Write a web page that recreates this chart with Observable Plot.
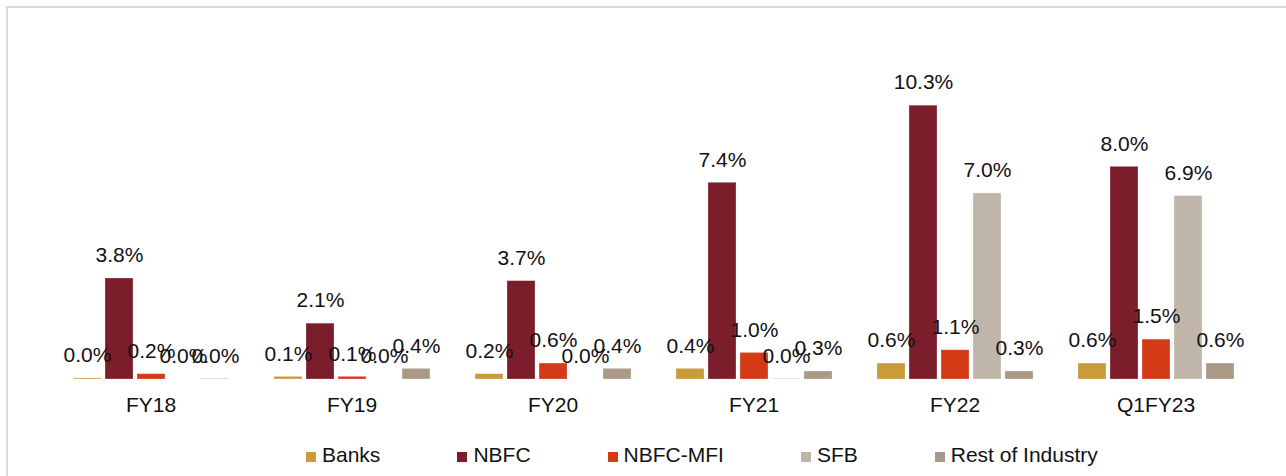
<!DOCTYPE html>
<html>
<head>
<meta charset="utf-8">
<script src="https://cdn.jsdelivr.net/npm/d3@7"></script>
<script src="https://cdn.jsdelivr.net/npm/@observablehq/plot@0.6"></script>
<style>
  html, body { margin: 0; padding: 0; background: #fff; }
  body { width: 1286px; height: 476px; position: relative; overflow: hidden; font-family: "Liberation Sans", Arial, sans-serif; }
  #frame { position: absolute; left: 6px; top: 6px; width: 1400px; height: 600px; border-left: 2px solid #d9d9d9; border-top: 2px solid #d9d9d9; box-sizing: border-box; }
  #chart { position: absolute; left: 0; top: 0; }
  #legend { position: absolute; left: 306px; top: 444px; font-size: 21px; line-height: 21px; color: #111; white-space: nowrap; }
  #legend .item { display: inline-block; margin-right: 77px; }
  #legend .sw { display: inline-block; width: 10px; height: 10px; margin-right: 6px; vertical-align: baseline; }
</style>
</head>
<body>
<div id="frame"></div>
<div id="chart"></div>
<div id="legend"></div>
<script>
const periods = ["FY18", "FY19", "FY20", "FY21", "FY22", "Q1FY23"];
const series = ["Banks", "NBFC", "NBFC-MFI", "SFB", "Rest of Industry"];
const banks = [0.04, 0.1, 0.2, 0.4, 0.6, 0.6];
const nbfc = [3.8, 2.1, 3.7, 7.4, 10.3, 8.0];
const nbfcMfi = [0.2, 0.1, 0.6, 1.0, 1.1, 1.5];
const sfb = [0, 0, 0, 0.02, 7.0, 6.9];
const rest = [0.02, 0.4, 0.4, 0.3, 0.3, 0.6];
const colors = ["#C99B3A", "#7B1D2B", "#D53A17", "#BFB6A9", "#A89A87"];

const valuesBySeries = [banks, nbfc, nbfcMfi, sfb, rest];
const data = [];
periods.forEach((p, i) => {
  series.forEach((s, j) => {
    data.push({period: p, series: s, value: valuesBySeries[j][i]});
  });
});

const chart = Plot.plot({
  width: 1286,
  height: 430,
  marginLeft: 48,
  marginRight: 28,
  marginTop: 60,
  marginBottom: 51,
  style: {fontFamily: "'Liberation Sans', Arial, sans-serif", fontSize: "21px", color: "#111", background: "transparent"},
  facet: {data: data, x: "period"},
  fx: {domain: periods, paddingInner: 0.191, paddingOuter: 0.0955, axis: "bottom", tickSize: 0, tickPadding: 18, label: null},
  x: {domain: series, paddingInner: 0.14, paddingOuter: 0.07, axis: null},
  y: {domain: [0, 12], axis: null},
  color: {domain: series, range: colors},
  marks: [
    Plot.barY(data, {x: "series", y: "value", fill: "series", stroke: "#ffffff", strokeOpacity: 0.35, strokeWidth: 0.75}),
    Plot.text(data, {x: "series", y: "value", text: d => d.value.toFixed(1) + "%", dy: -23, fontSize: 21, fill: "#111"})
  ]
});
document.getElementById("chart").appendChild(chart);

const legend = document.getElementById("legend");
series.forEach((s, j) => {
  const item = document.createElement("span");
  item.className = "item";
  const sw = document.createElement("span");
  sw.className = "sw";
  sw.style.background = colors[j];
  item.appendChild(sw);
  item.appendChild(document.createTextNode(s));
  legend.appendChild(item);
});
</script>
</body>
</html>
